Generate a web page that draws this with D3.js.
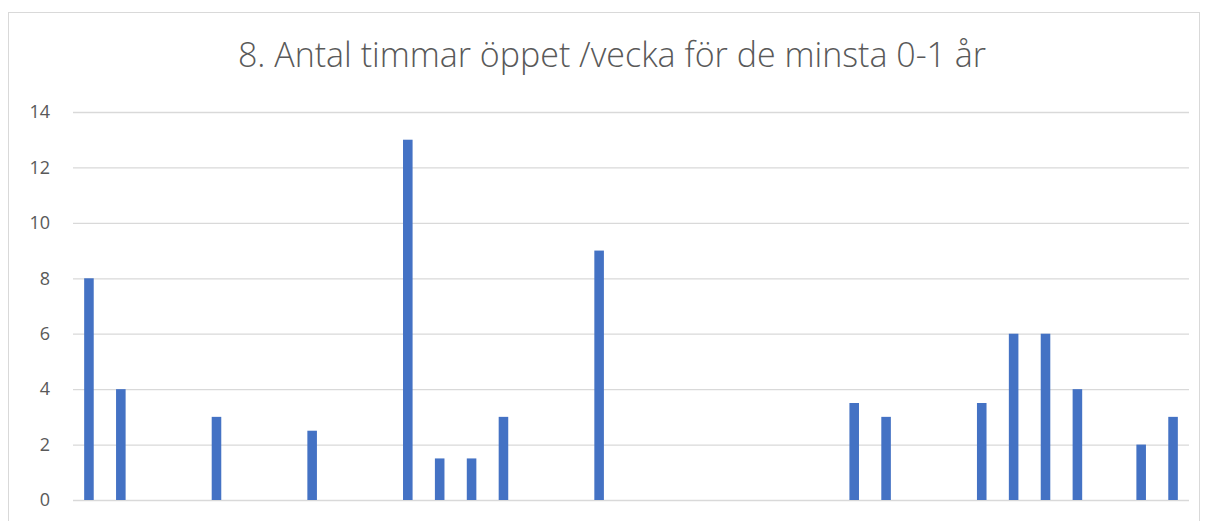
<!DOCTYPE html>
<html>
<head>
<meta charset="utf-8">
<script src="https://cdnjs.cloudflare.com/ajax/libs/d3/7.8.5/d3.min.js"></script>
<style>
  body { margin: 0; background: #fff; }
  svg { display: block; }
</style>
</head>
<body>
<script>
var chartTitle = "8. Antal timmar öppet /vecka för de minsta 0-1 år";
// 35 kategorier, inga etiketter syns i bilden
var categories = d3.range(1, 36).map(String);
var hours = [8, 4, 0, 0, 3, 0, 0, 2.5, 0, 0, 13, 1.5, 1.5, 3, 0, 0, 9, 0, 0, 0, 0, 0, 0, 0,
             3.5, 3, 0, 0, 3.5, 6, 6, 4, 0, 2, 3];
var yTicks = [0, 2, 4, 6, 8, 10, 12, 14];

var width = 1208, height = 521;
var margin = { left: 73, right: 19, top: 112, bottom: 21 };

var svg = d3.select("body").append("svg")
    .attr("width", width)
    .attr("height", height);

// ram runt diagrammet
svg.append("rect")
    .attr("x", 8.5).attr("y", 12.5)
    .attr("width", 1191).attr("height", 530)
    .style("fill", "none")
    .style("stroke", "#d9d9d9")
    .style("stroke-width", 1);

svg.append("text")
    .attr("x", 612)
    .attr("y", 67)
    .attr("text-anchor", "middle")
    .style("font-family", "'Open Sans', 'Noto Sans', sans-serif")
    .style("font-weight", 300)
    .style("font-size", "34px")
    .style("fill", "#595959")
    .text(chartTitle);

var x = d3.scaleBand()
    .domain(categories)
    .range([margin.left, width - margin.right])
    .paddingInner(0.7)
    .paddingOuter(0.35);

var y = d3.scaleLinear()
    .domain([0, 14])
    .range([height - margin.bottom, margin.top]);

var yAxis = svg.append("g")
    .attr("transform", "translate(" + margin.left + ",0)")
    .call(d3.axisLeft(y).tickValues(yTicks).tickSize(-(width - margin.left - margin.right)).tickPadding(23));

yAxis.select(".domain").remove();
yAxis.selectAll(".tick line")
    .style("stroke", "#d9d9d9")
    .style("stroke-width", 1.3);
yAxis.selectAll(".tick text")
    .style("font-family", "'Open Sans', 'Noto Sans', sans-serif")
    .style("font-size", "18px")
    .style("fill", "#595959");

svg.append("g").selectAll("rect")
    .data(hours)
    .join("rect")
    .attr("x", function (d, i) { return x(categories[i]); })
    .attr("y", function (d) { return y(d); })
    .attr("width", x.bandwidth())
    .attr("height", function (d) { return y(0) - y(d); })
    .style("fill", "#4472c4");
</script>
</body>
</html>
